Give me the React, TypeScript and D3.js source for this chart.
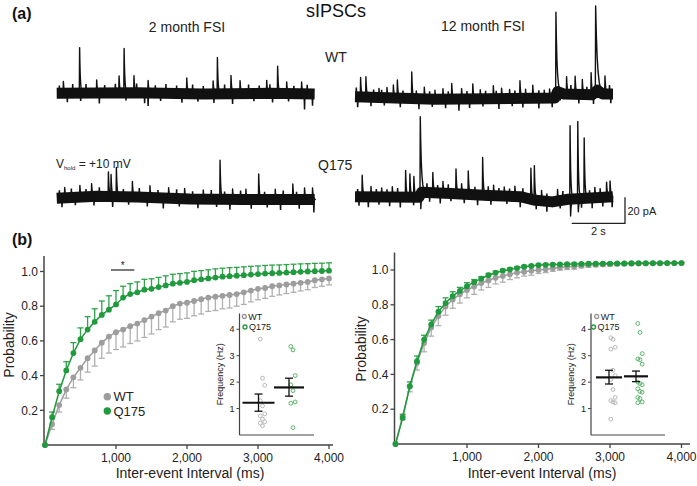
import React from "react";
import * as d3 from "d3";

// ---------- DATA ----------
const intervalsMs = [0, 100, 200, 300, 400, 500, 600, 700, 800, 900, 1000, 1100, 1200, 1300, 1400, 1500, 1600, 1700, 1800, 1900, 2000, 2100, 2200, 2300, 2400, 2500, 2600, 2700, 2800, 2900, 3000, 3100, 3200, 3300, 3400, 3500, 3600, 3700, 3800, 3900, 4000];

// 2 month FSI cumulative probability
const wt2mo = [0, 0.12, 0.23, 0.32, 0.39, 0.445, 0.5, 0.545, 0.59, 0.625, 0.65, 0.665, 0.685, 0.7, 0.72, 0.74, 0.76, 0.775, 0.8, 0.815, 0.82, 0.83, 0.84, 0.85, 0.855, 0.86, 0.865, 0.87, 0.88, 0.89, 0.9, 0.905, 0.915, 0.92, 0.925, 0.93, 0.935, 0.94, 0.95, 0.955, 0.96];
const wt2moSem = [0, 0.03, 0.04, 0.05, 0.06, 0.07, 0.08, 0.09, 0.09, 0.095, 0.1, 0.1, 0.1, 0.1, 0.1, 0.1, 0.095, 0.095, 0.09, 0.09, 0.09, 0.085, 0.085, 0.08, 0.08, 0.075, 0.075, 0.07, 0.07, 0.065, 0.063, 0.06, 0.058, 0.055, 0.052, 0.05, 0.047, 0.045, 0.042, 0.04, 0.037];
const q2mo = [0, 0.16, 0.31, 0.43, 0.53, 0.61, 0.665, 0.71, 0.75, 0.78, 0.81, 0.85, 0.87, 0.88, 0.895, 0.9, 0.91, 0.92, 0.93, 0.935, 0.94, 0.95, 0.955, 0.96, 0.965, 0.97, 0.973, 0.976, 0.979, 0.982, 0.985, 0.988, 0.99, 0.992, 0.994, 0.996, 0.998, 1.0, 1.002, 1.003, 1.005];
const q2moSem = [0, 0.03, 0.04, 0.05, 0.06, 0.065, 0.075, 0.075, 0.08, 0.08, 0.08, 0.065, 0.06, 0.06, 0.06, 0.058, 0.056, 0.055, 0.054, 0.053, 0.052, 0.051, 0.05, 0.05, 0.05, 0.049, 0.049, 0.048, 0.048, 0.048, 0.047, 0.047, 0.047, 0.046, 0.046, 0.046, 0.046, 0.045, 0.045, 0.045, 0.045];

// 12 month FSI cumulative probability
const wt12mo = [0, 0.16, 0.33, 0.465, 0.58, 0.67, 0.735, 0.79, 0.83, 0.86, 0.885, 0.905, 0.925, 0.94, 0.955, 0.965, 0.975, 0.985, 0.99, 0.995, 1.0, 1.005, 1.01, 1.015, 1.018, 1.02, 1.025, 1.028, 1.03, 1.032, 1.034, 1.035, 1.036, 1.036, 1.037, 1.037, 1.038, 1.038, 1.039, 1.039, 1.04];
const wt12moSem = [0, 0.02, 0.03, 0.04, 0.05, 0.05, 0.055, 0.05, 0.05, 0.05, 0.045, 0.045, 0.04, 0.04, 0.035, 0.035, 0.03, 0.03, 0.025, 0.025, 0.02, 0.02, 0.018, 0.016, 0.015, 0.015, 0.012, 0.012, 0.01, 0.01, 0.01, 0.008, 0.008, 0.008, 0.006, 0.006, 0.006, 0.005, 0.005, 0.005, 0.005];
const q12mo = [0, 0.15, 0.332, 0.476, 0.6, 0.687, 0.76, 0.81, 0.85, 0.88, 0.907, 0.93, 0.95, 0.97, 0.984, 0.996, 1.003, 1.011, 1.019, 1.023, 1.028, 1.03, 1.031, 1.032, 1.033, 1.034, 1.035, 1.036, 1.036, 1.037, 1.037, 1.038, 1.038, 1.039, 1.039, 1.039, 1.04, 1.04, 1.04, 1.04, 1.04];
const q12moSem = [0, 0.02, 0.025, 0.03, 0.025, 0.025, 0.03, 0.03, 0.025, 0.02, 0.02, 0.015, 0.012, 0.01, 0.01, 0.008, 0.008, 0.007, 0.007, 0.006, 0.006, 0.005, 0.005, 0.005, 0.005, 0.005, 0.004, 0.004, 0.004, 0.004, 0.004, 0.004, 0.004, 0.004, 0.004, 0.004, 0.004, 0.004, 0.004, 0.004, 0.004];

const probTicks = [0.2, 0.4, 0.6, 0.8, 1.0];
const msTicks = [1000, 2000, 3000, 4000];
const freqTicks = [1, 2, 3, 4];
const groups = ["WT", "Q175"];

// Inset frequency (Hz), per cell
const freqWt2mo = [3.63, 2.15, 1.88, 1.3, 1.1, 0.8, 0.72, 0.6, 0.5, 0.45, 0.35];
const freqQ2mo = [3.35, 3.22, 2.25, 1.9, 1.68, 1.25, 1.2, 0.28];
const freqMean2mo = [1.22, 1.8];
const freqErr2mo = [[0.9, 1.55], [1.47, 2.15]];
const freqWt12mo = [3.68, 3.62, 3.32, 3.25, 2.45, 2.25, 2.1, 1.72, 1.42, 1.3, 1.25, 1.22, 0.6];
const freqQ12mo = [4.22, 3.88, 3.08, 2.88, 2.85, 2.68, 2.0, 1.95, 1.9, 1.75, 1.65, 1.62, 1.42, 1.38, 1.25, 1.22];
const freqMean12mo = [2.18, 2.22];
const freqErr12mo = [[1.93, 2.45], [2.02, 2.42]];

// Example traces: baseline drift [s, pA], events [s, pA, decay s], noise excursions [s, pA]
const traceDuration = 9.68;
const wt2moDrift = [[0, 0], [3, 0.5], [5.5, -0.5], [8, 0], [9.68, -0.5]];
const wt2moEvents = [[0.25, 9], [0.86, 35], [1.5, 10], [2.34, 13], [2.53, 34], [2.9, 13], [3.43, 9.5], [4.88, 12], [5.87, 10], [6.03, 28], [6.54, 14], [6.88, 10], [7.88, 10], [8.29, 21], [8.63, 9], [9.19, 9]];
const wt2moNoise = [[0.1, 6], [0.6, 7], [1.1, 7], [1.8, 6], [2.2, 7], [3.0, 7], [3.7, 6], [4.1, 7], [4.5, 6], [5.1, 7], [5.5, 6], [6.3, 7], [7.2, 7], [7.6, 6], [8.0, 7], [8.9, 6], [9.4, 7], [0.4, -7], [0.9, -6], [1.6, -8], [2.6, -6], [3.3, -8], [3.43, -10], [3.9, -6], [4.7, -7], [5.3, -6], [5.9, -7], [6.6, -8], [7.4, -6], [8.1, -7], [8.7, -6], [9.3, -12], [9.6, -9]];

const q2moDrift = [[0, 0], [1.5, 1.5], [3, 1], [5, -0.5], [7, -1], [9.68, -1]];
const q2moEvents = [[0.3, 8], [0.87, 9], [1.31, 10], [1.94, 19], [2.04, 17], [2.24, 22.5], [2.84, 12], [3.5, 9], [4.2, 8], [4.8, 8], [5.5, 7], [6.13, 30], [6.6, 8], [7.1, 8], [7.58, 19.7], [8.2, 8], [8.86, 12], [9.3, 9], [9.6, 9]];
const q2moNoise = [[0.1, 6], [0.55, 7], [1.1, 6], [1.6, 7], [2.5, 6], [3.1, 7], [3.8, 6], [4.5, 7], [5.1, 6], [5.8, 7], [6.3, 6], [6.9, 7], [7.8, 6], [8.5, 7], [9.0, 6], [0.2, -7], [0.7, -6], [1.4, -7], [2.1, -8], [2.7, -6], [3.4, -7], [4.0, -8], [4.6, -6], [5.3, -7], [6.0, -6], [6.5, -8], [7.3, -7], [7.9, -6], [8.4, -8], [9.1, -7], [9.65, -10]];

const wt12moDrift = [[0, 0], [1.5, -1], [3, -2], [5, -1.5], [7.5, -1], [7.6, 4], [7.85, 2], [8.9, 1.5], [9.1, 5], [9.3, 2], [9.68, 2]];
const wt12moEvents = [[0.21, 15], [0.41, 15.6], [0.9, 7], [1.2, 8], [1.44, 10], [1.59, 14], [2.13, 20.5], [2.3, 6], [2.6, 9], [3.0, 7], [3.3, 8], [3.63, 12], [4.0, 8], [4.42, 11.5], [4.7, 7], [5.19, 10], [5.5, 8], [5.8, 7], [6.19, 13.5], [6.4, 7], [6.67, 10], [7.1, 6], [7.3, 7], [7.54, 64, 0.04], [7.94, 13.5], [8.26, 14], [8.53, 11.5], [8.86, 17], [9.03, 66, 0.06], [9.38, 14]];
const wt12moNoise = [[0.05, 7], [0.7, 6], [1.0, 6], [1.8, 6], [2.8, 6], [3.5, 6], [4.2, 6], [4.9, 6], [5.3, 6], [6.0, 6], [6.9, 6], [8.1, 7], [8.7, 6], [9.55, 7], [0.1, -8], [0.6, -7], [1.1, -6], [1.7, -7], [2.4, -8], [2.9, -6], [3.4, -7], [3.9, -9], [4.3, -7], [4.8, -6], [5.4, -8], [5.9, -6], [6.3, -7], [6.9, -8], [7.4, -7], [7.7, -6], [8.4, -7], [8.95, -8], [9.6, -7]];

const q12moDrift = [[0, 0], [2.4, -0.5], [2.5, 3.5], [3.6, 2.5], [5, 1], [6.2, 0], [6.7, -2.5], [7.4, -4], [8, -2], [9.68, 0]];
const q12moEvents = [[0.27, 16.5], [0.6, 8], [1.0, 7], [1.4, 8], [1.9, 20.5], [2.06, 18], [2.21, 16], [2.45, 60, 0.04], [2.47, -11.5], [2.92, 15.5], [3.3, 9], [3.79, 19], [4.0, 8], [4.25, 18], [4.79, 29], [5.2, 8], [5.6, 7], [6.0, 8], [6.6, 24], [6.73, 26.5], [7.0, 8], [7.6, 9], [8.07, 56.5], [8.09, -13], [8.36, 59.5], [8.38, -10], [8.6, 46.5], [9.0, 8], [9.44, 11.5], [9.57, 12.3]];
const q12moNoise = [[0.1, 6], [0.8, 6], [1.2, 6], [1.6, 7], [2.7, 7], [3.1, 6], [3.5, 7], [4.5, 6], [5.0, 7], [5.4, 6], [5.8, 6], [6.3, 7], [7.2, 6], [7.8, 7], [8.8, 6], [9.2, 7], [0.15, -7], [0.5, -8], [0.9, -6], [1.3, -7], [1.7, -8], [2.2, -6], [2.8, -7], [3.2, -8], [3.6, -6], [4.1, -7], [4.6, -8], [5.1, -7], [5.7, -6], [6.2, -8], [6.8, -7], [7.2, -8], [7.7, -6], [8.5, -7], [8.9, -8], [9.3, -7], [9.65, -8]];

// ---------- STYLE ----------
const FONT = "'Liberation Sans', Arial, Helvetica, sans-serif";
const GREEN = "#1f9a3d";
const GREEN_ERR = "#2fa24a";
const GRAY = "#9d9d9d";
const GRAY_ERR = "#b0b0b0";
const AXIS = "#444";
const PX_PER_S = 26.65;
const PX_PER_PA = 1.3;

type Pt = number[];

function Trace({ x0, baseY, drift, events, noise }: { x0: number; baseY: number; drift: Pt[]; events: Pt[]; noise: Pt[] }) {
  const x = d3.scaleLinear().domain([0, traceDuration]).range([x0, x0 + traceDuration * PX_PER_S]);
  const y = d3.scaleLinear().domain([0, 1]).range([baseY, baseY - PX_PER_PA]);
  const driftAt = d3.scaleLinear().domain(drift.map((d) => d[0])).range(drift.map((d) => d[1])).clamp(true);
  const line = d3.line<Pt>().x((d) => x(d[0])).y((d) => y(d[1]));
  const eventPath = (ev: Pt) => {
    const [t, amp] = ev;
    const tau = ev[2] ?? 0.025;
    const pts: Pt[] = [[t - 0.012, driftAt(t)], [t, driftAt(t) + amp]];
    [0.4, 0.9, 1.5, 2.3, 3.2].forEach((k) => pts.push([t + tau * k, driftAt(t + tau * k) + amp * Math.exp(-k)]));
    pts.push([t + tau * 4.5 + 0.01, driftAt(t + tau * 4.5)]);
    return line(pts) as string;
  };
  const noisePath = (n: Pt) => {
    const [t, amp] = n;
    return line([[t - 0.015, driftAt(t)], [t, driftAt(t) + amp], [t + 0.015, driftAt(t)]]) as string;
  };
  return (
    <g>
      <path d={line(drift) as string} fill="none" stroke="#111" strokeWidth={11} strokeLinejoin="round" />
      {noise.map((n, i) => (
        <path key={"n" + i} d={noisePath(n)} fill="none" stroke="#111" strokeWidth={1.5} />
      ))}
      {events.map((e, i) => (
        <path key={"e" + i} d={eventPath(e)} fill="none" stroke="#111" strokeWidth={1.4} strokeLinejoin="round" />
      ))}
    </g>
  );
}

function CdfPanel(props: {
  xRange: number[]; yRange: number[]; yAxisX: number; yTop: number; xAxisY: number; xAxisEnd: number;
  wt: number[]; wtSem: number[]; q: number[]; qSem: number[];
}) {
  const { xRange, yRange, yAxisX, yTop, xAxisY, xAxisEnd, wt, wtSem, q, qSem } = props;
  const x = d3.scaleLinear().domain([0, 4000]).range(xRange);
  const y = d3.scaleLinear().domain([0, 1]).range(yRange);
  const line = d3.line<number>().x((_, i) => x(intervalsMs[i])).y((d) => y(d));
  const cap = 3;
  return (
    <g fontFamily={FONT}>
      <line x1={yAxisX} x2={yAxisX} y1={yTop} y2={xAxisY} stroke={AXIS} strokeWidth={1.5} />
      <line x1={yAxisX} x2={xAxisEnd} y1={xAxisY} y2={xAxisY} stroke={AXIS} strokeWidth={1.5} />
      {probTicks.map((t) => (
        <g key={t}>
          <line x1={yAxisX - 4} x2={yAxisX} y1={y(t)} y2={y(t)} stroke={AXIS} strokeWidth={1.3} />
          <text x={yAxisX - 6} y={y(t)} dy="0.35em" textAnchor="end" fontSize={12} fill="#222">{t.toFixed(1)}</text>
        </g>
      ))}
      {msTicks.map((t) => (
        <g key={t}>
          <line x1={x(t)} x2={x(t)} y1={xAxisY} y2={xAxisY + 4} stroke={AXIS} strokeWidth={1.3} />
          <text x={x(t)} y={xAxisY + 17} textAnchor="middle" fontSize={12} fill="#222">{d3.format(",")(t)}</text>
        </g>
      ))}
      {wt.map((v, i) => wtSem[i] > 0 ? (
        <g key={"we" + i} stroke={GRAY_ERR} strokeWidth={1.3}>
          <line x1={x(intervalsMs[i])} x2={x(intervalsMs[i])} y1={y(v)} y2={y(v - wtSem[i])} />
          <line x1={x(intervalsMs[i]) - cap} x2={x(intervalsMs[i]) + cap} y1={y(v - wtSem[i])} y2={y(v - wtSem[i])} />
        </g>
      ) : null)}
      <path d={line(wt) as string} fill="none" stroke={GRAY} strokeWidth={1.5} />
      {wt.map((v, i) => (
        <circle key={"wp" + i} cx={x(intervalsMs[i])} cy={y(v)} r={2.9} fill={GRAY} />
      ))}
      {q.map((v, i) => qSem[i] > 0 ? (
        <g key={"qe" + i} stroke={GREEN_ERR} strokeWidth={1.3}>
          <line x1={x(intervalsMs[i])} x2={x(intervalsMs[i])} y1={y(v)} y2={y(v + qSem[i])} />
          <line x1={x(intervalsMs[i]) - cap} x2={x(intervalsMs[i]) + cap} y1={y(v + qSem[i])} y2={y(v + qSem[i])} />
        </g>
      ) : null)}
      <path d={line(q) as string} fill="none" stroke={GREEN} strokeWidth={1.5} />
      {q.map((v, i) => (
        <circle key={"qp" + i} cx={x(intervalsMs[i])} cy={y(v)} r={2.9} fill={GREEN} />
      ))}
    </g>
  );
}

function Inset(props: {
  axisX: number; xEnd: number; centers: number[]; halfW: number[];
  wtVals: number[]; qVals: number[]; means: number[]; errs: number[][]; legendX: number[];
}) {
  const { axisX, xEnd, centers, halfW, wtVals, qVals, means, errs, legendX } = props;
  const y = d3.scaleLinear().domain([0, 4]).range([435, 329.3]);
  const gx = d3.scalePoint<string>().domain(groups).range(centers);
  const top = y(4.6);
  const jitter = (i: number) => ((i % 3) - 1) * 2.2 + 4;
  const cols = [["#b8b8b8", wtVals], ["#5bb46a", qVals]] as [string, number[]][];
  return (
    <g fontFamily={FONT}>
      <line x1={axisX} x2={axisX} y1={top} y2={y(0)} stroke={AXIS} strokeWidth={1.2} />
      <line x1={axisX} x2={xEnd} y1={y(0)} y2={y(0)} stroke={AXIS} strokeWidth={1.2} />
      {freqTicks.map((t) => (
        <g key={t}>
          <line x1={axisX - 3} x2={axisX} y1={y(t)} y2={y(t)} stroke={AXIS} strokeWidth={1} />
          <text x={axisX - 5} y={y(t)} dy="0.35em" textAnchor="end" fontSize={9} fill="#222">{t}</text>
        </g>
      ))}
      <text transform={`translate(${axisX - 17},${(top + y(0)) / 2}) rotate(-90)`} textAnchor="middle" fontSize={9} fill="#222">Frequency (Hz)</text>
      {cols.map(([c, vals], gi) =>
        vals.map((v, i) => (
          <circle key={gi + "-" + i} cx={(gx(groups[gi]) as number) + jitter(i)} cy={y(v)} r={1.9} fill="none" stroke={c} strokeWidth={1} />
        ))
      )}
      {means.map((m, gi) => {
        const cx = gx(groups[gi]) as number;
        return (
          <g key={"m" + gi} stroke="#111">
            <line x1={cx - halfW[gi]} x2={cx + halfW[gi]} y1={y(m)} y2={y(m)} strokeWidth={2.2} />
            <line x1={cx} x2={cx} y1={y(errs[gi][0])} y2={y(errs[gi][1])} strokeWidth={1.3} />
            <line x1={cx - 4} x2={cx + 4} y1={y(errs[gi][0])} y2={y(errs[gi][0])} strokeWidth={1.3} />
            <line x1={cx - 4} x2={cx + 4} y1={y(errs[gi][1])} y2={y(errs[gi][1])} strokeWidth={1.3} />
          </g>
        );
      })}
      {groups.map((g, gi) => (
        <g key={"lg" + g}>
          <circle cx={legendX[gi]} cy={gi === 0 ? 316.5 : 327} r={2} fill="none" stroke={gi === 0 ? "#999" : GREEN} strokeWidth={1.3} />
          <text x={legendX[gi] + 4} y={gi === 0 ? 316.5 : 327} dy="0.35em" fontSize={9} fill="#222">{g}</text>
        </g>
      ))}
    </g>
  );
}

export default function App() {
  return (
    <svg width={697} height={486} style={{ position: "absolute", left: 0, top: 0, background: "#fff" }} fontFamily={FONT}>
      <rect width={697} height={486} fill="#fff" />
      {/* Panel (a) */}
      <text x={12} y={19} fontSize={16} fontWeight="bold" fill="#111">(a)</text>
      <text x={336} y={17} fontSize={18} textAnchor="middle" fill="#111">sIPSCs</text>
      <text x={187} y={31.5} fontSize={14} textAnchor="middle" fill="#222">2 month FSI</text>
      <text x={483} y={31} fontSize={14} textAnchor="middle" fill="#222">12 month FSI</text>
      <text x={325} y={62} fontSize={14} fill="#222">WT</text>
      <text x={318} y={170} fontSize={14} fill="#222">Q175</text>
      <text x={56} y={167.5} fontSize={12} fill="#222">
        V<tspan fontSize={6} dy={2}>hold</tspan><tspan dy={-2}> = +10 mV</tspan>
      </text>
      <Trace x0={56.7} baseY={93.3} drift={wt2moDrift} events={wt2moEvents} noise={wt2moNoise} />
      <Trace x0={56.7} baseY={198.3} drift={q2moDrift} events={q2moEvents} noise={q2moNoise} />
      <Trace x0={355} baseY={96.7} drift={wt12moDrift} events={wt12moEvents} noise={wt12moNoise} />
      <Trace x0={355} baseY={196.7} drift={q12moDrift} events={q12moEvents} noise={q12moNoise} />
      <path d={`M${625 - 2 * PX_PER_S},223.3 H625 V${223.3 - 20 * PX_PER_PA}`} fill="none" stroke="#222" strokeWidth={1.3} />
      <text x={627.5} y={214.5} fontSize={11} fill="#222">20 pA</text>
      <text x={625 - PX_PER_S} y={234.5} fontSize={11} textAnchor="middle" fill="#222">2 s</text>

      {/* Panel (b) */}
      <text x={12} y={245} fontSize={16} fontWeight="bold" fill="#111">(b)</text>
      <CdfPanel xRange={[45, 329]} yRange={[445, 271.5]} yAxisX={44} yTop={256} xAxisY={445} xAxisEnd={333}
        wt={wt2mo} wtSem={wt2moSem} q={q2mo} qSem={q2moSem} />
      <CdfPanel xRange={[395.5, 681.5]} yRange={[444, 270]} yAxisX={394.5} yTop={252.5} xAxisY={444} xAxisEnd={690}
        wt={wt12mo} wtSem={wt12moSem} q={q12mo} qSem={q12moSem} />
      <text transform="translate(14,345) rotate(-90)" textAnchor="middle" fontSize={14} fill="#222">Probability</text>
      <text transform="translate(366,349) rotate(-90)" textAnchor="middle" fontSize={14} fill="#222">Probability</text>
      <text x={190} y={478} textAnchor="middle" fontSize={14} fill="#222">Inter-event Interval (ms)</text>
      <text x={542} y={478} textAnchor="middle" fontSize={14} fill="#222">Inter-event Interval (ms)</text>
      <line x1={111} x2={134.3} y1={270} y2={270} stroke="#222" strokeWidth={1.2} />
      <text x={122.7} y={269} textAnchor="middle" fontSize={10} fill="#222">*</text>
      <circle cx={107.3} cy={396.7} r={3.7} fill={GRAY} />
      <text x={113.5} y={396.7} dy="0.36em" fontSize={13} fill="#222">WT</text>
      <circle cx={107.3} cy={411} r={3.7} fill={GREEN} />
      <text x={113.5} y={411} dy="0.36em" fontSize={13} fill="#222">Q175</text>
      <Inset axisX={239.5} xEnd={314} centers={[258.5, 289]} halfW={[16, 15]}
        wtVals={freqWt2mo} qVals={freqQ2mo} means={freqMean2mo} errs={freqErr2mo} legendX={[244.3, 245]} />
      <Inset axisX={591} xEnd={665} centers={[609, 636]} halfW={[13, 12]}
        wtVals={freqWt12mo} qVals={freqQ12mo} means={freqMean12mo} errs={freqErr12mo} legendX={[596.7, 593.5]} />
    </svg>
  );
}
